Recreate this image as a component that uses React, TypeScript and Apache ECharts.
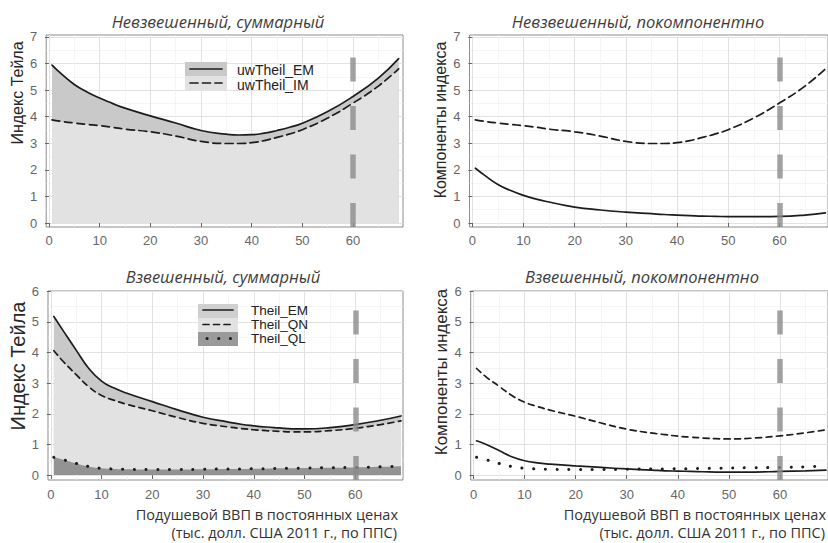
import { useEffect, useRef } from 'react';
import * as echarts from 'echarts';

// ---- data ----
const xValues = [0.6, 2.5, 5, 7.5, 10, 12.5, 15, 20, 25, 30, 35, 37.5, 40, 42.5, 45, 47.5, 50, 55, 60, 65, 69];
// unweighted
const uwTheilIM = [3.88, 3.82, 3.76, 3.71, 3.66, 3.6, 3.53, 3.43, 3.27, 3.07, 2.99, 2.99, 3.02, 3.1, 3.22, 3.35, 3.51, 3.95, 4.51, 5.15, 5.8];
const uwTheilEM = [2.06, 1.78, 1.45, 1.22, 1.04, 0.9, 0.79, 0.6, 0.49, 0.41, 0.35, 0.32, 0.3, 0.28, 0.26, 0.25, 0.24, 0.24, 0.25, 0.3, 0.38];
// weighted
const theilQL = [0.58, 0.5, 0.38, 0.28, 0.22, 0.2, 0.19, 0.18, 0.18, 0.19, 0.2, 0.2, 0.21, 0.21, 0.22, 0.22, 0.23, 0.24, 0.25, 0.27, 0.29];
const theilQN = [3.48, 3.2, 2.9, 2.6, 2.38, 2.24, 2.12, 1.92, 1.7, 1.5, 1.37, 1.32, 1.27, 1.24, 1.21, 1.19, 1.18, 1.21, 1.28, 1.38, 1.48];
const theilEM = [1.12, 1.0, 0.8, 0.6, 0.47, 0.4, 0.36, 0.3, 0.25, 0.2, 0.16, 0.14, 0.13, 0.12, 0.11, 0.1, 0.1, 0.1, 0.12, 0.14, 0.16];

const xTickValues = [0, 10, 20, 30, 40, 50, 60];
const xMinorValues = [5, 15, 25, 35, 45, 55, 65];
const yTopTicks = [0, 1, 2, 3, 4, 5, 6, 7];
const yTopMinor = [0.5, 1.5, 2.5, 3.5, 4.5, 5.5, 6.5];
const yBottomTicks = [0, 1, 2, 3, 4, 5, 6];
const yBottomMinor = [0.5, 1.5, 2.5, 3.5, 4.5, 5.5];
const cutoffX = 60;

const panelTitles = [
  'Невзвешенный, суммарный',
  'Невзвешенный, покомпонентно',
  'Взвешенный, суммарный',
  'Взвешенный, покомпонентно',
];
const yTitleUnweighted = 'Индекс Тейла';
const yTitleComponents = 'Компоненты индекса';
const xTitleLine1 = 'Подушевой ВВП в постоянных ценах';
const xTitleLine2 = '(тыс. долл. США 2011 г., по ППС)';
const legendTop = ['uwTheil_EM', 'uwTheil_IM'];
const legendBottom = ['Theil_EM', 'Theil_QN', 'Theil_QL'];

// ---- styling ----
const INK = '#1c1c1c';
const FILL_MED = '#c9c9c9';
const FILL_LIGHT = '#e2e2e2';
const FILL_DARK = '#939393';
const DASH_TOP = [8, 4.5];
const DASH_BOT = [6, 4.5];
const DOT = [0.1, 11.6];

const panels = [
  { left: 46.2, top: 35, width: 356.8, height: 192, xmin: -0.55, xmax: 69.86, ymin: -0.15, ymax: 7.07, yTicks: yTopTicks, yMinor: yTopMinor },
  { left: 469.5, top: 35, width: 358.5, height: 192, xmin: -0.55, xmax: 69.5, ymin: -0.15, ymax: 7.07, yTicks: yTopTicks, yMinor: yTopMinor },
  { left: 48, top: 291, width: 355, height: 189, xmin: -0.55, xmax: 69.4, ymin: -0.16, ymax: 6.01, yTicks: yBottomTicks, yMinor: yBottomMinor },
  { left: 470.7, top: 291, width: 357.3, height: 189, xmin: -0.55, xmax: 69.4, ymin: -0.16, ymax: 6.01, yTicks: yBottomTicks, yMinor: yBottomMinor },
];

const zip = (ys: number[]) => xValues.map((x, i) => [x, +ys[i].toFixed(3)]);
const sum = (...arrs: number[][]) => arrs[0].map((_, i) => arrs.reduce((s, a) => s + a[i], 0));

function buildOption() {
  const grid: any[] = [];
  const xAxis: any[] = [];
  const yAxis: any[] = [];
  panels.forEach((p, gi) => {
    grid.push({
      left: p.left, top: p.top, width: p.width, height: p.height,
      show: true, backgroundColor: '#ffffff', borderColor: '#8c8c8c', borderWidth: 1,
      containLabel: false, outerBoundsMode: 'none',
    });
    const labelStyle = { color: '#666666', fontSize: 13, fontFamily: 'Liberation Sans, Arial, sans-serif' };
    xAxis.push({
      type: 'value', gridIndex: gi, min: p.xmin, max: p.xmax, position: 'bottom',
      axisLine: { show: false },
      axisTick: { show: true, length: 4, lineStyle: { color: '#666' }, customValues: xTickValues },
      axisLabel: { ...labelStyle, margin: gi < 2 ? 7 : 8, customValues: xTickValues },
      splitLine: { show: true, lineStyle: { color: '#e2e2e2', width: 1 } },
    });
    xAxis.push({
      type: 'value', gridIndex: gi, min: p.xmin, max: p.xmax, position: 'top',
      axisLine: { show: false },
      axisTick: { show: false, customValues: xMinorValues },
      axisLabel: { show: false, customValues: xMinorValues },
      splitLine: { show: true, lineStyle: { color: '#f0f0f0', width: 0.7 } },
    });
    yAxis.push({
      type: 'value', gridIndex: gi, min: p.ymin, max: p.ymax, position: 'left',
      axisLine: { show: false },
      axisTick: { show: true, length: 4, lineStyle: { color: '#666' }, customValues: p.yTicks },
      axisLabel: { ...labelStyle, margin: 9, customValues: p.yTicks },
      splitLine: { show: true, lineStyle: { color: '#e2e2e2', width: 1 } },
    });
    yAxis.push({
      type: 'value', gridIndex: gi, min: p.ymin, max: p.ymax, position: 'right',
      axisLine: { show: false },
      axisTick: { show: false, customValues: p.yMinor },
      axisLabel: { show: false, customValues: p.yMinor },
      splitLine: { show: true, lineStyle: { color: '#f0f0f0', width: 0.7 } },
    });
  });

  const base = (gi: number) => ({
    type: 'line', xAxisIndex: gi * 2, yAxisIndex: gi * 2, showSymbol: false, symbol: 'none',
    smooth: 0.5, silent: true, animation: false,
  });
  const line = (gi: number, ys: number[], type: any, extra: any = {}) => ({
    ...base(gi), data: zip(ys), z: 3,
    lineStyle: { color: INK, width: type === 'dot' ? 3 : 1.7, type: type === 'dot' ? DOT : type, cap: 'round' },
    ...extra,
  });
  const area = (gi: number, ys: number[], color: string) => ({
    ...base(gi), data: zip(ys), z: 2, lineStyle: { opacity: 0, width: 0 },
    areaStyle: { color, opacity: 1 },
  });
  const cutoff = (gi: number) => ({
    ...base(gi), data: [], z: 5,
    markLine: {
      silent: true, symbol: ['none', 'none'], label: { show: false },
      lineStyle: { color: 'rgba(140,140,140,0.8)', width: 5.5, type: [24, 24.5], cap: 'butt' },
      data: [{ xAxis: cutoffX }],
    },
  });

  const uwTotal = sum(uwTheilIM, uwTheilEM);
  const wQLQN = sum(theilQL, theilQN);
  const wTotal = sum(theilQL, theilQN, theilEM);

  const series: any[] = [
    // top-left
    area(0, uwTotal, FILL_MED),
    area(0, uwTheilIM, FILL_LIGHT),
    line(0, uwTotal, 'solid'),
    line(0, uwTheilIM, DASH_TOP),
    cutoff(0),
    // top-right
    line(1, uwTheilIM, DASH_TOP),
    line(1, uwTheilEM, 'solid'),
    cutoff(1),
    // bottom-left
    area(2, wTotal, FILL_MED),
    area(2, wQLQN, FILL_LIGHT),
    area(2, theilQL, FILL_DARK),
    line(2, wTotal, 'solid'),
    line(2, wQLQN, DASH_BOT),
    line(2, theilQL, 'dot'),
    cutoff(2),
    // bottom-right
    line(3, theilQN, DASH_BOT),
    line(3, theilEM, 'solid'),
    line(3, theilQL, 'dot'),
    cutoff(3),
  ];

  const titleFont = 'italic 16.5px "Open Sans", sans-serif';
  const axisTitleFont = '16px "Liberation Sans", Arial, sans-serif';
  const xTitleFont = '14.5px "Open Sans", sans-serif';
  const legendFont = '14px "Liberation Sans", Arial, sans-serif';
  const legendFontSmall = '13.5px "Liberation Sans", Arial, sans-serif';
  const txt = (text: string, x: number, y: number, font: string, fill: string, align = 'center', rotation = 0) => ({
    type: 'text', x, y, rotation, silent: true, z: 100, zlevel: 0,
    style: { text, font, fill, textAlign: align, textVerticalAlign: 'middle' },
  });
  const rect = (x: number, y: number, w: number, h: number, fill: string) => ({
    type: 'rect', silent: true, z: 99, shape: { x, y, width: w, height: h }, style: { fill },
  });
  const seg = (x1: number, x2: number, y: number, dash: any, width = 1.7) => ({
    type: 'line', silent: true, z: 100, shape: { x1, y1: y, x2, y2: y },
    style: { stroke: INK, lineWidth: width, lineDash: dash, lineCap: 'round' },
  });

  const graphic: any[] = [
    txt(panelTitles[0], 218, 21, titleFont, '#3d3d3d'),
    txt(panelTitles[1], 638, 21, titleFont, '#3d3d3d'),
    txt(panelTitles[2], 223, 276, titleFont, '#3d3d3d'),
    txt(panelTitles[3], 642, 276, titleFont, '#3d3d3d'),
    txt(yTitleUnweighted, 17, 93, axisTitleFont, '#262626', 'center', Math.PI / 2),
    txt(yTitleComponents, 440, 120, axisTitleFont, '#262626', 'center', Math.PI / 2),
    txt(yTitleUnweighted, 18, 366, '20px "Liberation Sans", Arial, sans-serif', '#262626', 'center', Math.PI / 2),
    txt(yTitleComponents, 441, 372, '17px "Liberation Sans", Arial, sans-serif', '#262626', 'center', Math.PI / 2),
    txt(xTitleLine1, 398, 514, xTitleFont, '#333', 'right'),
    txt(xTitleLine2, 397, 532, xTitleFont, '#333', 'right'),
    txt(xTitleLine1, 826, 514, xTitleFont, '#333', 'right'),
    txt(xTitleLine2, 825, 532, xTitleFont, '#333', 'right'),
    // legend top-left
    rect(185, 62, 42, 14, FILL_MED),
    rect(185, 76, 42, 14, FILL_LIGHT),
    seg(190, 222, 69, null),
    seg(190, 222, 83, DASH_TOP),
    txt(legendTop[0], 237, 69.5, legendFont, '#222', 'left'),
    txt(legendTop[1], 237, 84.5, legendFont, '#222', 'left'),
    // legend bottom-left
    rect(198, 304, 40, 14, '#cfcfcf'),
    rect(198, 318, 40, 14, FILL_LIGHT),
    rect(198, 332, 40, 14, '#9a9a9a'),
    seg(203, 233, 310, null),
    seg(203, 233, 324.5, DASH_BOT),
    seg(207, 233, 338.5, [0.1, 11.6], 3),
    txt(legendBottom[0], 251, 310.5, legendFontSmall, '#222', 'left'),
    txt(legendBottom[1], 251, 324.5, legendFontSmall, '#222', 'left'),
    txt(legendBottom[2], 251, 338.5, legendFontSmall, '#222', 'left'),
  ];

  return {
    animation: false,
    backgroundColor: '#ffffff',
    grid, xAxis, yAxis, series, graphic,
  };
}

export default function App() {
  const ref = useRef<HTMLDivElement>(null);
  useEffect(() => {
    if (!ref.current) return;
    const chart = echarts.init(ref.current, undefined, { renderer: 'svg' });
    chart.setOption(buildOption() as any);
    return () => chart.dispose();
  }, []);
  return <div ref={ref} style={{ position: 'absolute', left: 0, top: 0, width: 828, height: 543 }} />;
}
